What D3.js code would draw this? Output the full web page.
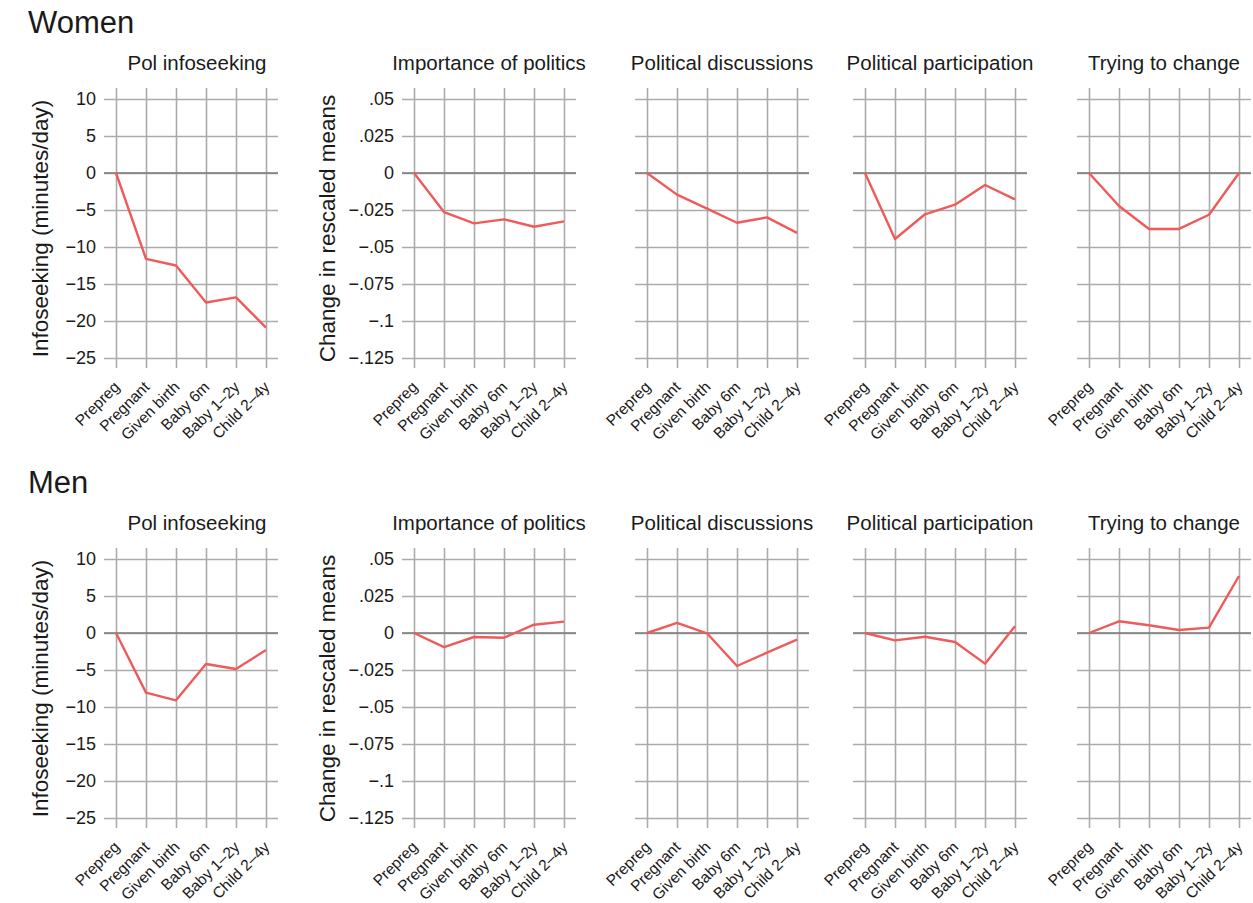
<!DOCTYPE html>
<html>
<head>
<meta charset="utf-8">
<script src="https://cdn.jsdelivr.net/npm/d3@7"></script>
<style>
  html, body { margin: 0; padding: 0; background: #ffffff; }
  svg { display: block; font-family: "Liberation Sans", Arial, Helvetica, sans-serif; }
</style>
</head>
<body>
<svg id="chart" width="1253" height="903"></svg>
<script>
// Life stages along the x axis
const categories = ["Prepreg", "Pregnant", "Given birth", "Baby 6m", "Baby 1–2y", "Child 2–4y"];

// Panel titles and group headings
const measures = ["Pol infoseeking", "Importance of politics", "Political discussions", "Political participation", "Trying to change"];
const groups = ["Women", "Men"];

// Women: change relative to pre-pregnancy
const womenInfoseeking   = [0, -11.6, -12.5, -17.5, -16.8, -20.9];
const womenImportance    = [0, -0.0264, -0.034, -0.0313, -0.0363, -0.0327];
const womenDiscussions   = [0, -0.0146, -0.0241, -0.0336, -0.030, -0.0405];
const womenParticipation = [0, -0.0446, -0.0279, -0.0214, -0.0081, -0.0178];
const womenTrying        = [0, -0.0223, -0.0378, -0.0378, -0.0282, 0];

// Men: change relative to pre-pregnancy
const menInfoseeking   = [0, -8.06, -9.1, -4.19, -4.86, -2.3];
const menImportance    = [0, -0.0095, -0.0027, -0.0032, 0.0056, 0.0077];
const menDiscussions   = [0, 0.0068, -0.0002, -0.0223, -0.0133, -0.0045];
const menParticipation = [0, -0.005, -0.0025, -0.0061, -0.0207, 0.0045];
const menTrying        = [0, 0.0079, 0.0052, 0.002, 0.0036, 0.0385];

// Y axis ticks
const minutesTicks = [10, 5, 0, -5, -10, -15, -20, -25];
const minutesTickLabels = ["10", "5", "0", "−5", "−10", "−15", "−20", "−25"];
const meansTicks = [0.05, 0.025, 0, -0.025, -0.05, -0.075, -0.1, -0.125];
const meansTickLabels = [".05", ".025", "0", "−.025", "−.05", "−.075", "−.1", "−.125"];

const yTitles = ["Infoseeking (minutes/day)", "Change in rescaled means"];

// ---- layout ----
const firstX = [116, 414, 647, 865, 1089];   // x of the first category in each panel
const span = 150;                             // distance first -> last category
const gridPad = 12;                           // horizontal grid overhang
const rowTop = [99, 559];                     // y of top tick per row
const plotH = 259;                            // top tick -> bottom tick
const vTopExt = 11, vBotExt = 10;             // vertical grid overhang

const textColor = "#1a1a1a";
const gridColor = "#ababab";
const zeroColor = "#7a7a7a";
const lineColor = "#ef5a5a";

const svg = d3.select("#chart");

const rows = [
  [womenInfoseeking, womenImportance, womenDiscussions, womenParticipation, womenTrying],
  [menInfoseeking, menImportance, menDiscussions, menParticipation, menTrying]
];

rows.forEach((series, r) => {
  const top = rowTop[r];
  const bottom = top + plotH;

  // group heading
  svg.append("text")
    .attr("x", 28).attr("y", top - 66)
    .attr("font-size", 31).attr("fill", textColor)
    .text(groups[r]);

  series.forEach((values, p) => {
    const minutes = p === 0;
    const ticks = minutes ? minutesTicks : meansTicks;
    const tickLabels = minutes ? minutesTickLabels : meansTickLabels;

    const x = d3.scalePoint().domain(categories).range([firstX[p], firstX[p] + span]);
    const y = d3.scaleLinear()
      .domain([ticks[ticks.length - 1], ticks[0]])
      .range([bottom, top]);

    const g = svg.append("g");
    const left = firstX[p] - gridPad;
    const right = firstX[p] + span + gridPad;

    // panel title
    g.append("text")
      .attr("x", minutes ? (left + right) / 2 + 6 : (left + right) / 2)
      .attr("y", top - 29)
      .attr("text-anchor", "middle")
      .attr("font-size", 20.5).attr("fill", textColor)
      .text(measures[p]);

    // horizontal grid + y tick labels
    const yAxis = d3.axisLeft(y)
      .tickValues(ticks)
      .tickSize(-(right - left))
      .tickPadding(8)
      .tickFormat((d, i) => (p <= 1 ? tickLabels[i] : ""));
    const yg = g.append("g")
      .attr("transform", `translate(${left},0)`)
      .call(yAxis);
    yg.select(".domain").remove();
    yg.selectAll(".tick line").attr("stroke", gridColor).attr("stroke-width", 1.6);
    yg.selectAll(".tick text")
      .attr("font-size", 18).attr("fill", textColor)
      .attr("font-family", null);

    // vertical grid + rotated category labels
    const gridBottom = bottom + vBotExt;
    const xAxis = d3.axisBottom(x)
      .tickSize(-(plotH + vTopExt + vBotExt))
      .tickPadding(0);
    const xg = g.append("g")
      .attr("transform", `translate(0,${gridBottom})`)
      .call(xAxis);
    xg.select(".domain").remove();
    xg.selectAll(".tick line").attr("stroke", gridColor).attr("stroke-width", 1.6);
    xg.selectAll(".tick text")
      .attr("font-size", 15.5).attr("fill", textColor)
      .attr("font-family", null)
      .attr("text-anchor", "end")
      .attr("dy", null)
      .attr("y", null)
      .attr("transform", "translate(4,20) rotate(-45)");

    // zero reference line
    g.append("line")
      .attr("x1", left).attr("x2", right)
      .attr("y1", y(0)).attr("y2", y(0))
      .attr("stroke", zeroColor).attr("stroke-width", 1.6);

    // data line
    g.append("path")
      .datum(values)
      .attr("fill", "none")
      .attr("stroke", lineColor)
      .attr("stroke-width", 2.4)
      .attr("stroke-linejoin", "round")
      .attr("d", d3.line().x((d, i) => x(categories[i])).y(d => y(d)));

    // y axis titles on the first two panels
    if (p <= 1) {
      const tx = p === 0 ? 48 : 335;
      g.append("text")
        .attr("transform", `translate(${tx},${(top + bottom) / 2}) rotate(-90)`)
        .attr("text-anchor", "middle")
        .attr("font-size", 22.5).attr("fill", textColor)
        .text(yTitles[p]);
    }
  });
});
</script>
</body>
</html>
